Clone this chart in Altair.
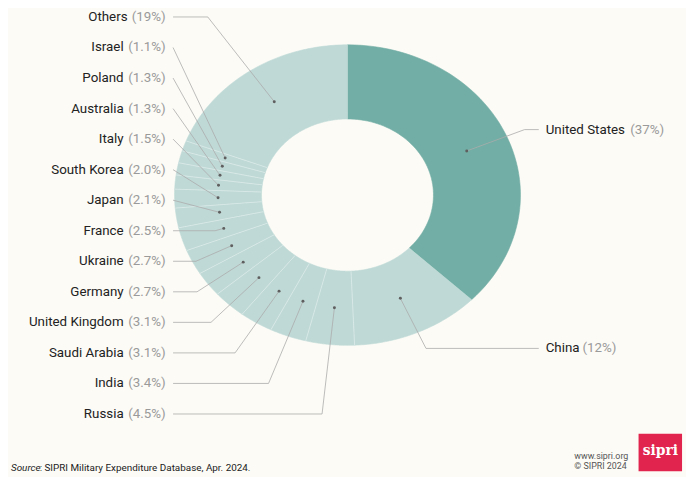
import altair as alt
import pandas as pd

# ---- data (clockwise from 12 o'clock) ----
countries = ["United States", "China", "Russia", "India", "Saudi Arabia",
             "United Kingdom", "Germany", "Ukraine", "France", "Japan",
             "South Korea", "Italy", "Australia", "Poland", "Israel", "Others"]
shares = [37, 12, 4.5, 3.4, 3.1, 3.1, 2.7, 2.7, 2.5, 2.1, 2.0, 1.5, 1.3, 1.3, 1.1, 19]
share_labels = ["(37%)", "(12%)", "(4.5%)", "(3.4%)", "(3.1%)", "(3.1%)", "(2.7%)",
                "(2.7%)", "(2.5%)", "(2.1%)", "(2.0%)", "(1.5%)", "(1.3%)", "(1.3%)",
                "(1.1%)", "(19%)"]
source_label = "Source"
source_text = ": SIPRI Military Expenditure Database, Apr. 2024."
credit_lines = ["www.sipri.org", "© SIPRI 2024"]
logo_text = "sipri"

df = pd.DataFrame({"country": countries, "share": shares, "pct": share_labels,
                   "order": list(range(len(countries)))})

# ---- layout constants (pixels within the plot area) ----
W, H = 686, 469
CX, CY = 343.5, 186.5
RX_OUT, RY_OUT = 175, 152
RX_IN, RY_IN = 87, 77
RX_DOT, RY_DOT = 131, 114.5
NPTS = 60
LEFT_TEXT_X, LEFT_LINE_X = 159.5, 167
RIGHT_TEXT_X, RIGHT_LINE_X = 544, 537
LEFT_Y0, STEP = 408, 30.9
RIGHT_R = 170
FONT = "Roboto"
FS = 13.5
LIGHT, DARK = "#BFD9D6", "#72AEA5"

base = (
    alt.Chart(df)
    .transform_window(cum="sum(share)", sort=[alt.SortField("order")], frame=[None, 0])
    .transform_joinaggregate(total="sum(share)")
    .transform_calculate(
        a0="(datum.cum - datum.share) / datum.total * 2 * PI",
        a1="datum.cum / datum.total * 2 * PI",
        mid="(datum.a0 + datum.a1) / 2",
        px=f"{CX} + {RX_DOT} * sin(datum.mid)",
        py=f"{CY} - {RY_DOT} * cos(datum.mid)",
        isright="datum.order < 2",
        ly=f"datum.isright ? {CY} - {RIGHT_R} * cos(datum.mid) : {LEFT_Y0} - {STEP} * (datum.order - 2)",
        t=f"abs(datum.py - {CY}) < 0.5 ? 0 : (datum.ly - {CY}) / (datum.py - {CY})",
        exr=f"{CX} + datum.t * (datum.px - {CX})",
        ex=(f"datum.isright ? (datum.t > 1 ? min({RIGHT_LINE_X}, datum.exr) : {RIGHT_LINE_X})"
            f" : (datum.t > 1 ? max({LEFT_LINE_X}, datum.exr) : {LEFT_LINE_X})"),
        lx=f"datum.isright ? {RIGHT_LINE_X} : {LEFT_LINE_X}",
        namex=f"{LEFT_TEXT_X} - (length(datum.pct) == 5 ? 34 : 38) - 4.5",
        pctx=f"{RIGHT_TEXT_X} + length(datum.country) * 6.05 + 7",
        # boundary (separator) at the start angle of each slice
        bx0=f"{CX} + {RX_IN} * sin(datum.a0)",
        by0=f"{CY} - {RY_IN} * cos(datum.a0)",
        bx1=f"{CX} + {RX_OUT} * sin(datum.a0)",
        by1=f"{CY} - {RY_OUT} * cos(datum.a0)",
    )
)

# elliptical ring sectors: outer edge forward, inner edge back
ring = (
    base.transform_calculate(k=f"sequence(0, {2 * NPTS})")
    .transform_flatten(["k"])
    .transform_calculate(
        outer=f"datum.k < {NPTS}",
        frac=f"(datum.outer ? datum.k : datum.k - {NPTS}) / {NPTS - 1}",
        ang="datum.outer ? datum.a0 + (datum.a1 - datum.a0) * datum.frac"
            " : datum.a1 - (datum.a1 - datum.a0) * datum.frac",
        vx=f"{CX} + (datum.outer ? {RX_OUT} : {RX_IN}) * sin(datum.ang)",
        vy=f"{CY} - (datum.outer ? {RY_OUT} : {RY_IN}) * cos(datum.ang)",
    )
)


def ring_layer(test, colour):
    return ring.transform_filter(test).mark_line(
        interpolate="linear-closed", fill=colour, stroke=colour, strokeWidth=0.6,
        fillOpacity=1).encode(
        x=alt.X("vx:Q", scale=None, axis=None),
        y=alt.Y("vy:Q", scale=None, axis=None),
        detail="country:N",
        order=alt.Order("k:Q"),
    )


ring_dark = ring_layer("datum.order == 0", DARK)
ring_light = ring_layer("datum.order != 0", LIGHT)

separators = base.transform_filter("datum.order > 1").mark_rule(
    color="#ffffff", strokeOpacity=0.45, strokeWidth=0.8).encode(
    x=alt.X("bx0:Q", scale=None, axis=None), x2="bx1:Q",
    y=alt.Y("by0:Q", scale=None, axis=None), y2="by1:Q",
)

seg1 = base.mark_rule(color="#ababab", strokeWidth=0.8).encode(
    x=alt.X("lx:Q", scale=None, axis=None), x2="ex:Q",
    y=alt.Y("ly:Q", scale=None, axis=None),
)
seg2 = base.mark_rule(color="#ababab", strokeWidth=0.8).encode(
    x=alt.X("ex:Q", scale=None, axis=None), x2="px:Q",
    y=alt.Y("ly:Q", scale=None, axis=None), y2="py:Q",
)
dots = base.mark_circle(size=9, color="#5f5f5f", opacity=1).encode(
    x=alt.X("px:Q", scale=None, axis=None),
    y=alt.Y("py:Q", scale=None, axis=None),
)

left_names = base.transform_filter("!datum.isright").mark_text(
    align="right", baseline="middle", font=FONT, fontSize=FS, color="#222222").encode(
    x=alt.X("namex:Q", scale=None, axis=None),
    y=alt.Y("ly:Q", scale=None, axis=None), text="country:N")
left_pcts = base.transform_filter("!datum.isright").mark_text(
    align="right", baseline="middle", font=FONT, fontSize=FS, color="#9a9a9a").encode(
    x=alt.value(LEFT_TEXT_X),
    y=alt.Y("ly:Q", scale=None, axis=None), text="pct:N")
right_names = base.transform_filter("datum.isright").mark_text(
    align="left", baseline="middle", font=FONT, fontSize=FS, color="#222222").encode(
    x=alt.value(RIGHT_TEXT_X),
    y=alt.Y("ly:Q", scale=None, axis=None), text="country:N")
right_pcts = base.transform_filter("datum.isright").mark_text(
    align="left", baseline="middle", font=FONT, fontSize=FS, color="#9a9a9a").encode(
    x=alt.X("pctx:Q", scale=None, axis=None),
    y=alt.Y("ly:Q", scale=None, axis=None), text="pct:N")

src1 = alt.Chart(pd.DataFrame({"t": [source_label]})).mark_text(
    align="left", baseline="alphabetic", font=FONT, fontSize=10, fontStyle="italic",
    color="#222222").encode(x=alt.value(3), y=alt.value(466), text="t:N")
src2 = alt.Chart(pd.DataFrame({"t": [source_text]})).mark_text(
    align="left", baseline="alphabetic", font=FONT, fontSize=10,
    color="#222222").encode(x=alt.value(32), y=alt.value(466), text="t:N")

credit = alt.Chart(pd.DataFrame({"t": credit_lines, "i": [0, 1]})).transform_calculate(
    yy="451 + datum.i * 10").mark_text(
    align="left", baseline="middle", font=FONT, fontSize=9, color="#555555").encode(
    x=alt.value(573), y=alt.Y("yy:Q", scale=None, axis=None), text="t:N")

logo_box = alt.Chart(pd.DataFrame({"t": [logo_text]})).mark_rect(color="#E1244D").encode(
    x=alt.value(638), x2=alt.value(682), y=alt.value(428), y2=alt.value(466))
logo = alt.Chart(pd.DataFrame({"t": [logo_text]})).mark_text(
    align="center", baseline="middle", font="DejaVu Serif", fontSize=14, fontWeight="bold",
    color="#ffffff").encode(x=alt.value(660), y=alt.value(446), text="t:N")

chart = alt.layer(
    ring_dark, ring_light, separators, seg1, seg2, dots,
    left_names, left_pcts, right_names, right_pcts,
    src1, src2, credit, logo_box, logo,
).properties(
    width=W, height=H, padding=0, autosize=alt.AutoSizeParams(type="none"),
).configure(background="#FCFBF6").configure_view(stroke=None)

chart.save("out.html", embed_options={"renderer": "svg", "actions": False})
